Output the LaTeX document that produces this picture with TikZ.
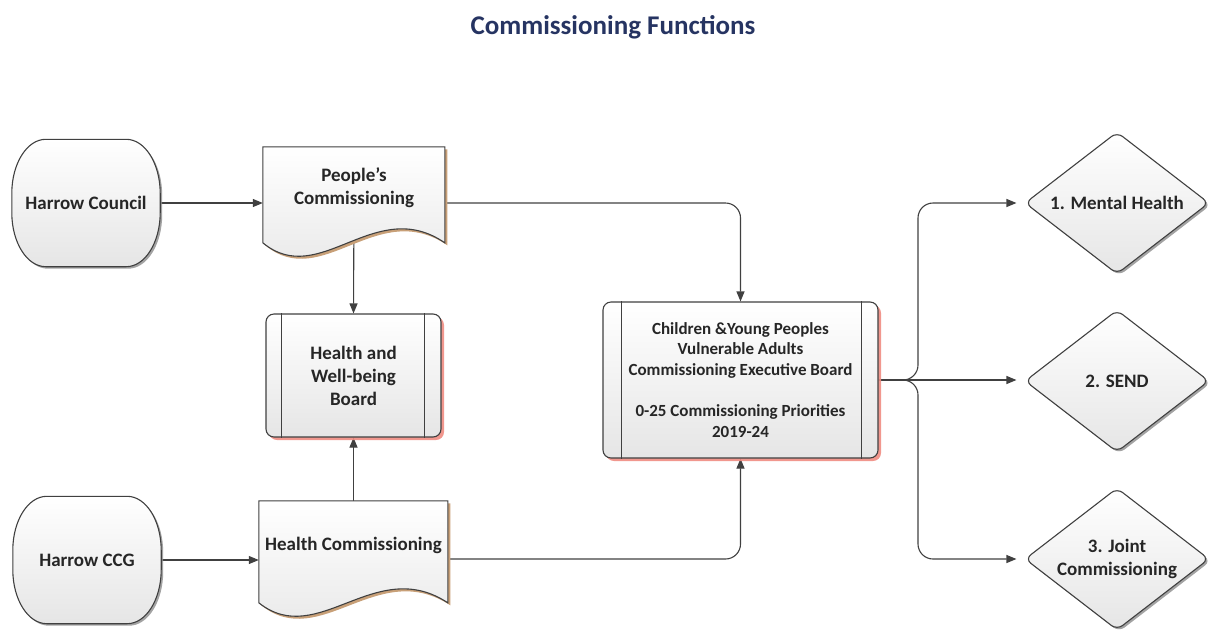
\documentclass[tikz,border=0pt]{standalone}
\usepackage{fontspec}
\setmainfont{Carlito}
\usetikzlibrary{arrows.meta,shapes.geometric,shadows,calc}
\pgfdeclarelayer{bg}
\pgfdeclarelayer{mid}
\pgfsetlayers{bg,mid,main}
\definecolor{linec}{RGB}{64,64,64}
\definecolor{titlec}{RGB}{38,52,98}
\definecolor{redsh}{RGB}{240,140,130}
\definecolor{tansh}{RGB}{200,160,120}
\definecolor{graysh}{RGB}{140,140,140}
\newcommand{\docshape}[3]{%
  \begin{scope}[shift={(#1.north west)}]
    \begin{scope}[shift={(2.5,2.5)}]
      \fill[tansh] (0,0) -- (#2,0) -- (#2,#3) .. controls ({0.615*#2},{#3-48}) and ({0.313*#2},{#3+47}) .. (0,#3) -- cycle;
    \end{scope}
    \path[draw=linec, line width=1.1pt, top color=white, bottom color=black!10]
      (0,0) -- (#2,0) -- (#2,#3) .. controls ({0.615*#2},{#3-48}) and ({0.313*#2},{#3+47}) .. (0,#3) -- cycle;
  \end{scope}}
\newcommand{\termshape}[1]{%
  \begin{pgfonlayer}{mid}
  \path[draw=linec, line width=1.1pt, top color=white, bottom color=black!10,
    drop shadow={shadow xshift=2pt, shadow yshift=-2pt, fill=graysh, opacity=0.8}]
    ([xshift=34pt]#1.north west) -- ([xshift=-34pt]#1.north east)
    arc[start angle=90, end angle=0, x radius=34pt, y radius=54pt]
    -- ([yshift=54pt]#1.south east)
    arc[start angle=0, end angle=-90, x radius=34pt, y radius=54pt]
    -- ([xshift=34pt]#1.south west)
    arc[start angle=270, end angle=180, x radius=34pt, y radius=54pt]
    -- ([yshift=-54pt]#1.north west)
    arc[start angle=180, end angle=90, x radius=34pt, y radius=54pt] -- cycle;
  \end{pgfonlayer}}
\tikzset{
  base/.style={draw=linec, line width=1.1pt, font=\bfseries\fontsize{19}{23}\selectfont,
    align=center, top color=white, bottom color=black!10, text=black!85, inner sep=0pt},
  term/.style={font=\bfseries\fontsize{19}{23}\selectfont, align=center, text=black!85,
    inner sep=0pt, minimum width=148pt, minimum height=127pt},
  board/.style={base, rounded corners=8pt,
    drop shadow={shadow xshift=3pt, shadow yshift=-3pt, fill=redsh, opacity=0.9}},
  docbox/.style={draw=none, inner sep=0pt},
  doctext/.style={font=\bfseries\fontsize{19}{23}\selectfont, align=center, text=black!85},
  dia/.style={base, diamond, aspect=1.3, minimum width=184pt, minimum height=142pt,
    rounded corners=7pt,
    drop shadow={shadow xshift=2pt, shadow yshift=-2pt, fill=graysh, opacity=0.8}},
  conn/.style={draw=linec, line width=1.1pt, -{Triangle[length=10pt,width=8pt]}},
  innerline/.style={draw=linec, line width=1.1pt}
}
\begin{document}
\begin{tikzpicture}[x=1pt,y=-1pt]
\useasboundingbox (0,0) rectangle (1218,633);

\node[font=\bfseries\fontsize{27}{30}\selectfont, text=titlec] (title) at (613,27) {Commissioning Functions};

% terminators
\node[term] (hc) at (86,203) {Harrow Council};
\termshape{hc}
\node[term] (ccg) at (87,560) {Harrow CCG};
\termshape{ccg}

% documents
\node[docbox, minimum width=182pt, minimum height=112pt] (pc) at (354,203) {};
\docshape{pc}{182}{96}
\node[doctext] (pct) at (354,188) {People’s\\Commissioning};

\node[docbox, minimum width=189pt, minimum height=116pt] (hcm) at (353.5,559) {};
\docshape{hcm}{189}{102}
\node[doctext] (hcmt) at (353.5,545) {Health Commissioning};

% boards
\node[board, minimum width=175pt, minimum height=123pt] (hw) at (353.5,375.5) {Health and\\Well-being\\Board};
\draw[innerline] ([xshift=16pt]hw.north west) -- ([xshift=16pt]hw.south west);
\draw[innerline] ([xshift=-17pt]hw.north east) -- ([xshift=-17pt]hw.south east);

\node[board, minimum width=275pt, minimum height=156pt,
  font=\bfseries\fontsize{17}{20.7}\selectfont] (cb) at (740.5,380)
  {Children \&Young Peoples\\Vulnerable Adults\\Commissioning Executive Board\\[20.7pt]0-25 Commissioning Priorities\\2019-24};
\draw[innerline] ([xshift=19pt]cb.north west) -- ([xshift=19pt]cb.south west);
\draw[innerline] ([xshift=-17pt]cb.north east) -- ([xshift=-17pt]cb.south east);

% diamonds
\node[dia] (d1) at (1117,203) {1. Mental Health};
\node[dia] (d2) at (1117,381) {2. SEND};
\node[dia] (d3) at (1117,559) {3. Joint\\Commissioning};

\coordinate (br) at (918,380);

\begin{pgfonlayer}{bg}
\draw[conn] (hc.east) -- (pc.west);
\draw[conn, rounded corners=15pt] (pc.east) -| (cb.north);
\draw[conn] (pc.center) -- (hw.north);
\draw[conn] (hcm.north) -- (hw.south);
\draw[conn] (ccg.east) -- (hcm.west |- ccg.east);
\draw[conn, rounded corners=15pt] (hcm.east) -| (cb.south);
\draw[conn, rounded corners=15pt, shorten >=8pt] (cb.east) -- (br) |- (d1.west);
\draw[conn, shorten >=8pt] (cb.east) -- (cb.east -| d2.west);
\draw[conn, rounded corners=15pt, shorten >=8pt] (cb.east) -- (br) |- (d3.west);
\end{pgfonlayer}
\end{tikzpicture}
\end{document}
